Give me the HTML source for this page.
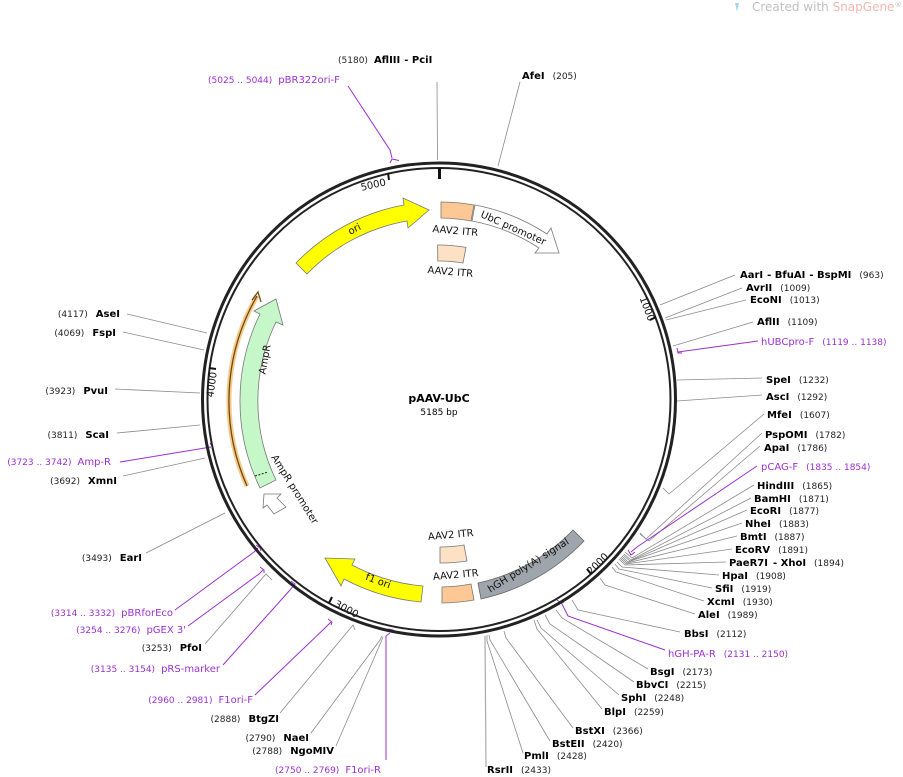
<!DOCTYPE html>
<html><head><meta charset="utf-8"><style>
html,body{margin:0;padding:0;background:#fff;}
svg{display:block;font-family:"DejaVu Sans","Liberation Sans",sans-serif;}
.b{font-weight:bold;font-size:10px;fill:#000;}
.n{font-size:9px;fill:#222;}
.p{font-size:10px;fill:#9b30d0;}
.pn{font-size:9px;fill:#9b30d0;}
.l{stroke:#8a8a8a;stroke-width:0.8;fill:none;}
.pl{stroke:#9b30d0;stroke-width:1;fill:none;}
.f{font-size:10px;fill:#111;}
</style></head><body>
<svg width="903" height="777" viewBox="0 0 903 777" xmlns="http://www.w3.org/2000/svg">
<rect width="903" height="777" fill="#fff"/>
<path d="M735,3 l4,0 l-2,9 z" fill="#a8d8e8"/>
<text x="752" y="11" font-size="12" fill="#c0c0c0">Created with <tspan fill="#f0b8b0">SnapGene</tspan><tspan font-size="7" dy="-4">®</tspan></text>

<g class="l">
<polyline points="437.5,160 437,82"/>
<polyline points="498,166 520,82"/>
<polyline points="660,305 735,275"/>
<polyline points="665,318 742,288"/>
<polyline points="666,320 746,300"/>
<polyline points="673,346 753,322"/>
<polyline points="677,380 762,378"/>
<polyline points="677,401 762,395"/>
<polyline points="663,488 669,494 764,414"/>
<polyline points="640,533 646,539 762,433"/>
<polyline points="640,534 649,541 760,446"/>
<polyline points="625,552 632,558 754,485"/>
<polyline points="624,554 631,560 751,498"/>
<polyline points="623,555 630,561 747,510"/>
<polyline points="622,556 628,562 742,523"/>
<polyline points="621,557 627,563 737,536"/>
<polyline points="620,558 626,564 732,549"/>
<polyline points="619,559 625,565 726,562"/>
<polyline points="617,562 622,567 719,575"/>
<polyline points="615,564 619,569 712,588"/>
<polyline points="612,567 616,572 704,601"/>
<polyline points="600,578 605,585 695,614"/>
<polyline points="572,600 578,610 680,632"/>
<polyline points="556,610 562,618 648,669"/>
<polyline points="545,615 550,624 634,682"/>
<polyline points="537,620 541,628 619,695"/>
<polyline points="534,620 537,629 602,709"/>
<polyline points="504,631 506,638 573,728"/>
<polyline points="489,635 490,640 550,741"/>
<polyline points="487,635 487,641 523,753"/>
<polyline points="485,636 486,767" style="stroke-width:1.2;stroke:#aaa"/>
<polyline points="207,333 127,314"/>
<polyline points="204,350 123,332"/>
<polyline points="200,393 115,389"/>
<polyline points="200,425 117,433"/>
<polyline points="205,458 123,476"/>
<polyline points="225,513 146,553"/>
<polyline points="272,580 266,574 205,644"/>
<polyline points="355,630 353,625 280,713"/>
<polyline points="382,636 380,640 311,733"/>
<polyline points="383,637 381,642 336,746"/>
</g>
<g class="pl">
<polyline points="392,158 390,150 348,86"/>
<path d="M390,163 l2,-4 l7,1.5"/>
<polyline points="678,352 758,341"/>
<path d="M677,348 l1,5 l4,0"/>
<polyline points="211,447 120,462"/>
<path d="M210,443 l2,3 l0,3"/>
<polyline points="631,552 637,547 757,466"/>
<path d="M628,550 l3,5 l4,-3"/>
<polyline points="561,602 568,616 665,650"/>
<path d="M557,600 l4,3 l3,-1"/>
<polyline points="258,548 254,552 175,610"/>
<path d="M256,545 l4,3 l1,3"/>
<polyline points="263,570 259,574 188,626"/>
<path d="M260,567 l4,3 l0,3"/>
<polyline points="294,585 290,590 223,665"/>
<path d="M291,581 l4,3 l-1,3"/>
<polyline points="331,622 327,626 255,695"/>
<path d="M328,619 l4,3 l-1,3"/>
<polyline points="390,633 386,636 386,760"/>
<path d="M388,629 l5,1 l-1,3"/>
</g>

<circle cx="439" cy="399.5" r="236.5" fill="none" stroke="#222" stroke-width="3"/>
<circle cx="439" cy="399.5" r="231.5" fill="none" stroke="#222" stroke-width="2"/>
<g stroke="#111" stroke-width="2">
<line x1="439.5" y1="168" x2="439.5" y2="179" stroke-width="3"/>
<line x1="389" y1="180" x2="388" y2="173"/>
<line x1="650" y1="320" x2="656" y2="317"/>
<line x1="587" y1="569" x2="591" y2="574"/>
<line x1="332" y1="597" x2="329" y2="603"/>
<line x1="216" y1="369" x2="209" y2="368"/>
</g>
<g font-size="10" fill="#111" text-anchor="middle">
<text transform="translate(374,188) rotate(-13)">5000</text>
<text transform="translate(644,310) rotate(69)">1000</text>
<text transform="translate(600,566) rotate(-45)">2000</text>
<text transform="translate(345,612) rotate(28)">3000</text>
<text transform="translate(215,385) rotate(-82)">4000</text>
</g>

<path d="M296,263 A199,199 0 0 1 404,205 L403,198 L429,210 L408,228 L407,221 A183,183 0 0 0 307,274 Z" fill="#ffff00" stroke="#777" stroke-width="0.8"/>
<text class="f" transform="translate(356,232) rotate(-28)" text-anchor="middle">ori</text>
<path d="M441,202 A199,199 0 0 1 474,205 L471,221 A183,183 0 0 0 441,218 Z" fill="#fec894" stroke="#777" stroke-width="0.8"/>
<path d="M475,205 A199,199 0 0 1 547,234 L551,228 L559,253 L535,253 L539,248 A183,183 0 0 0 472,221 Z" fill="#fff" stroke="#777" stroke-width="0.8"/>
<text class="f" transform="translate(512,231) rotate(24)" text-anchor="middle">UbC promoter</text>
<text class="f" transform="translate(455,234) rotate(5)" text-anchor="middle">AAV2 ITR</text>
<path d="M437.6,245 A156,156 0 0 1 466,247.4 L463,263 A140,140 0 0 0 437.8,261 Z" fill="#fde1c4" stroke="#777" stroke-width="0.8"/>
<text class="f" transform="translate(450,275) rotate(5)" text-anchor="middle">AAV2 ITR</text>

<path d="M247,486 A210,210 0 0 1 257,296" fill="none" stroke="#f7c27a" stroke-width="5" opacity="0.9"/>
<path d="M247,486 A210,210 0 0 1 257,296" fill="none" stroke="#6b4a10" stroke-width="1.3"/>
<path d="M252,300 L258,292 L261,302" fill="none" stroke="#6b4a10" stroke-width="1.3"/>
<path d="M276,480 A181,181 0 0 1 276,322 L283,325 L276,299 L254,311 L260,314 A199,199 0 0 0 260,488 Z" fill="#c6f7c9" stroke="#777" stroke-width="0.8"/>
<line x1="255" y1="476" x2="268" y2="472" stroke="#222" stroke-width="1" stroke-dasharray="2,1.5"/>
<text class="f" transform="translate(268,360) rotate(-80)" text-anchor="middle">AmpR</text>
<path d="M264,494 L281,494 L277,498 L286,507 L274,514 L267,505 L263,508 Z" fill="#fff" stroke="#777" stroke-width="0.8"/>
<text class="f" transform="translate(292,491) rotate(58)" text-anchor="middle">AmpR promoter</text>

<path d="M421,602 A202,202 0 0 1 344,579 L341,586 L325,558 L355,559 L352,565 A186,186 0 0 0 423,586 Z" fill="#ffff00" stroke="#777" stroke-width="0.8"/>
<text class="f" transform="translate(377,584) rotate(20)" text-anchor="middle">f1 ori</text>
<path d="M442,603 A202,202 0 0 0 474,600 L471,584 A186,186 0 0 1 442,587 Z" fill="#fec894" stroke="#777" stroke-width="0.8"/>
<text class="f" transform="translate(456,578) rotate(-5)" text-anchor="middle">AAV2 ITR</text>
<path d="M440,563 A162,162 0 0 0 467,561 L464,545 A146,146 0 0 1 440,547 Z" fill="#fde1c4" stroke="#777" stroke-width="0.8"/>
<text class="f" transform="translate(451,538) rotate(-5)" text-anchor="middle">AAV2 ITR</text>
<path d="M481,599 A202,202 0 0 0 584,541 L573,530 A186,186 0 0 1 478,583 Z" fill="#9ea5ac" stroke="#666" stroke-width="0.8"/>
<text class="f" transform="translate(530,568) rotate(-32)" text-anchor="middle">hGH poly(A) signal</text>

<text x="439" y="402" text-anchor="middle" font-weight="bold" font-size="11">pAAV-UbC</text>
<text x="439" y="415" text-anchor="middle" font-size="9">5185 bp</text>

<text x="338" y="63"><tspan class="n">(5180)</tspan><tspan class="b" dx="6">AflIII</tspan><tspan class="b" dx="4">- PciI</tspan></text>
<text x="522" y="79"><tspan class="b">AfeI</tspan><tspan class="n" dx="8">(205)</tspan></text>
<text x="208" y="83"><tspan class="pn">(5025 .. 5044)</tspan><tspan class="p" dx="6">pBR322ori-F</tspan></text>
<g>
<text x="740" y="278"><tspan class="b">AarI</tspan><tspan class="b" dx="4">- BfuAI</tspan><tspan class="b" dx="4">- BspMI</tspan><tspan class="n" dx="8">(963)</tspan></text>
<text x="746" y="291"><tspan class="b">AvrII</tspan><tspan class="n" dx="8">(1009)</tspan></text>
<text x="750" y="303"><tspan class="b">EcoNI</tspan><tspan class="n" dx="8">(1013)</tspan></text>
<text x="757" y="325"><tspan class="b">AflII</tspan><tspan class="n" dx="8">(1109)</tspan></text>
<text x="761" y="345"><tspan class="p">hUBCpro-F</tspan><tspan class="pn" dx="8">(1119 .. 1138)</tspan></text>
<text x="766" y="383"><tspan class="b">SpeI</tspan><tspan class="n" dx="8">(1232)</tspan></text>
<text x="766" y="400"><tspan class="b">AscI</tspan><tspan class="n" dx="8">(1292)</tspan></text>
<text x="767" y="418"><tspan class="b">MfeI</tspan><tspan class="n" dx="8">(1607)</tspan></text>
<text x="765" y="438"><tspan class="b">PspOMI</tspan><tspan class="n" dx="8">(1782)</tspan></text>
<text x="764" y="451"><tspan class="b">ApaI</tspan><tspan class="n" dx="8">(1786)</tspan></text>
<text x="761" y="470"><tspan class="p">pCAG-F</tspan><tspan class="pn" dx="8">(1835 .. 1854)</tspan></text>
<text x="757" y="489"><tspan class="b">HindIII</tspan><tspan class="n" dx="8">(1865)</tspan></text>
<text x="754" y="502"><tspan class="b">BamHI</tspan><tspan class="n" dx="8">(1871)</tspan></text>
<text x="750" y="514"><tspan class="b">EcoRI</tspan><tspan class="n" dx="8">(1877)</tspan></text>
<text x="745" y="527"><tspan class="b">NheI</tspan><tspan class="n" dx="8">(1883)</tspan></text>
<text x="740" y="540"><tspan class="b">BmtI</tspan><tspan class="n" dx="8">(1887)</tspan></text>
<text x="735" y="553"><tspan class="b">EcoRV</tspan><tspan class="n" dx="8">(1891)</tspan></text>
<text x="729" y="566"><tspan class="b">PaeR7I</tspan><tspan class="b" dx="5">- XhoI</tspan><tspan class="n" dx="8">(1894)</tspan></text>
<text x="722" y="579"><tspan class="b">HpaI</tspan><tspan class="n" dx="8">(1908)</tspan></text>
<text x="715" y="592"><tspan class="b">SfiI</tspan><tspan class="n" dx="8">(1919)</tspan></text>
<text x="707" y="605"><tspan class="b">XcmI</tspan><tspan class="n" dx="8">(1930)</tspan></text>
<text x="698" y="618"><tspan class="b">AleI</tspan><tspan class="n" dx="8">(1989)</tspan></text>
<text x="684" y="637"><tspan class="b">BbsI</tspan><tspan class="n" dx="8">(2112)</tspan></text>
<text x="668" y="657"><tspan class="p">hGH-PA-R</tspan><tspan class="pn" dx="8">(2131 .. 2150)</tspan></text>
<text x="650" y="675"><tspan class="b">BsgI</tspan><tspan class="n" dx="8">(2173)</tspan></text>
<text x="636" y="688"><tspan class="b">BbvCI</tspan><tspan class="n" dx="8">(2215)</tspan></text>
<text x="621" y="701"><tspan class="b">SphI</tspan><tspan class="n" dx="8">(2248)</tspan></text>
<text x="604" y="715"><tspan class="b">BlpI</tspan><tspan class="n" dx="8">(2259)</tspan></text>
<text x="575" y="734"><tspan class="b">BstXI</tspan><tspan class="n" dx="8">(2366)</tspan></text>
<text x="552" y="747"><tspan class="b">BstEII</tspan><tspan class="n" dx="8">(2420)</tspan></text>
<text x="524" y="759"><tspan class="b">PmlI</tspan><tspan class="n" dx="8">(2428)</tspan></text>
<text x="487" y="773"><tspan class="b">RsrII</tspan><tspan class="n" dx="8">(2433)</tspan></text>
</g>
<g text-anchor="end">
<text x="120" y="317"><tspan class="n">(4117)</tspan><tspan class="b" dx="8">AseI</tspan></text>
<text x="116" y="336"><tspan class="n">(4069)</tspan><tspan class="b" dx="8">FspI</tspan></text>
<text x="108" y="394"><tspan class="n">(3923)</tspan><tspan class="b" dx="8">PvuI</tspan></text>
<text x="109" y="438"><tspan class="n">(3811)</tspan><tspan class="b" dx="8">ScaI</tspan></text>
<text x="111" y="465"><tspan class="pn">(3723 .. 3742)</tspan><tspan class="p" dx="6">Amp-R</tspan></text>
<text x="117" y="484"><tspan class="n">(3692)</tspan><tspan class="b" dx="8">XmnI</tspan></text>
<text x="142" y="561"><tspan class="n">(3493)</tspan><tspan class="b" dx="8">EarI</tspan></text>
<text x="173" y="616"><tspan class="pn">(3314 .. 3332)</tspan><tspan class="p" dx="6">pBRforEco</tspan></text>
<text x="186" y="633"><tspan class="pn">(3254 .. 3276)</tspan><tspan class="p" dx="6">pGEX 3'</tspan></text>
<text x="202" y="651"><tspan class="n">(3253)</tspan><tspan class="b" dx="8">PfoI</tspan></text>
<text x="220" y="672"><tspan class="pn">(3135 .. 3154)</tspan><tspan class="p" dx="6">pRS-marker</tspan></text>
<text x="253" y="703"><tspan class="pn">(2960 .. 2981)</tspan><tspan class="p" dx="6">F1ori-F</tspan></text>
<text x="279" y="722"><tspan class="n">(2888)</tspan><tspan class="b" dx="8">BtgZI</tspan></text>
<text x="309" y="741"><tspan class="n">(2790)</tspan><tspan class="b" dx="8">NaeI</tspan></text>
<text x="334" y="754"><tspan class="n">(2788)</tspan><tspan class="b" dx="8">NgoMIV</tspan></text>
<text x="381" y="773"><tspan class="pn">(2750 .. 2769)</tspan><tspan class="p" dx="6">F1ori-R</tspan></text>
</g>
</svg>
</body></html>
